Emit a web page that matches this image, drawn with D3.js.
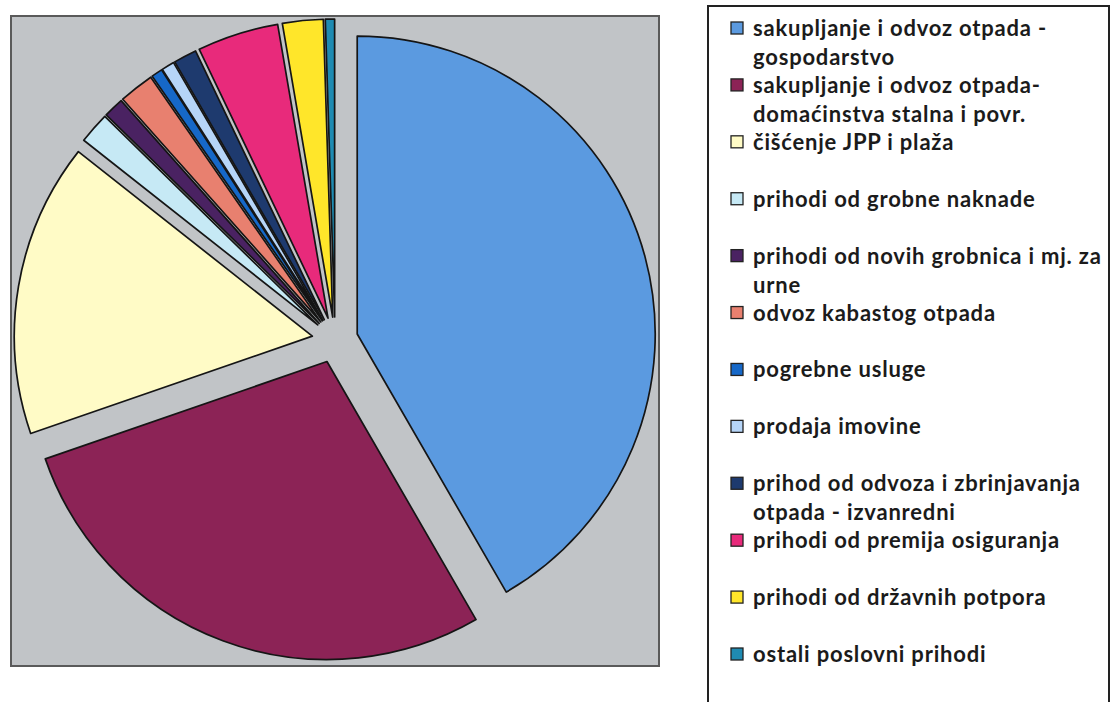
<!DOCTYPE html>
<html>
<head>
<meta charset="utf-8">
<script src="https://cdn.jsdelivr.net/npm/d3@7"></script>
<style>
  body { margin: 0; background: #fff; }
  .legendText { font-family: Lato, "Open Sans", sans-serif; font-weight: bold; font-size: 22px; letter-spacing: 0.8px; fill: #1b1b1b; }
</style>
</head>
<body>
<div id="chart"></div>
<script>
var svgWidth = 1113;
var svgHeight = 702;

// data (share of revenue, %)
var categories = [
  ["sakupljanje i odvoz otpada -", "gospodarstvo"],
  ["sakupljanje i odvoz otpada-", "domaćinstva stalna i povr."],
  ["čišćenje JPP i plaža"],
  ["prihodi od grobne naknade"],
  ["prihodi od novih grobnica i mj. za", "urne"],
  ["odvoz kabastog otpada"],
  ["pogrebne usluge"],
  ["prodaja imovine"],
  ["prihod od odvoza i zbrinjavanja", "otpada - izvanredni"],
  ["prihodi od premija osiguranja"],
  ["prihodi od državnih potpora"],
  ["ostali poslovni prihodi"]
];
var values = [41.6, 28.0, 15.9, 1.7, 1.1, 1.9, 0.6, 0.7, 1.25, 4.4, 2.2, 0.5];
var colors = ["#5b9ae0", "#8c2356", "#fffbc6", "#c6e9f5", "#4a2262", "#e8806f",
              "#1668c8", "#b6d5f8", "#1e3a6e", "#e82a7b", "#ffe62a", "#1f8bb2"];

var plot = { left: 11, top: 16, right: 659, bottom: 666 };
var center = { x: 335, y: 340 };
var radius = 298;
var explode = 23;

var svg = d3.select("#chart")
  .append("svg")
  .attr("width", svgWidth)
  .attr("height", svgHeight);

// plot area
svg.append("rect")
  .attr("x", plot.left)
  .attr("y", plot.top)
  .attr("width", plot.right - plot.left)
  .attr("height", plot.bottom - plot.top)
  .attr("fill", "#c1c4c7")
  .attr("stroke", "#5a5a5a")
  .attr("stroke-width", 2);

var pie = d3.pie().sort(null).value(d => d);
var arc = d3.arc().innerRadius(0).outerRadius(radius);

var pieGroup = svg.append("g")
  .attr("transform", `translate(${center.x}, ${center.y})`);

// every slice is pulled out from the centre
pieGroup.selectAll("path")
  .data(pie(values))
  .enter()
  .append("path")
  .attr("d", arc)
  .attr("transform", function(d) {
    var mid = (d.startAngle + d.endAngle) / 2;
    return `translate(${Math.sin(mid) * explode}, ${-Math.cos(mid) * explode})`;
  })
  .attr("fill", (d, i) => colors[i])
  .attr("stroke", "#151515")
  .attr("stroke-width", 1.7)
  .attr("stroke-linejoin", "round");

// legend
svg.append("rect")
  .attr("x", 708)
  .attr("y", 6)
  .attr("width", 401)
  .attr("height", 720)
  .attr("fill", "#fff")
  .attr("stroke", "#222")
  .attr("stroke-width", 2);

var legendY = d3.scaleLinear().domain([0, categories.length - 1]).range([28, 654]);

var legend = svg.selectAll(".legendItem")
  .data(categories)
  .enter()
  .append("g")
  .attr("class", "legendItem")
  .attr("transform", (d, i) => `translate(731, ${legendY(i)})`);

legend.append("rect")
  .attr("x", 0)
  .attr("y", -6)
  .attr("width", 12)
  .attr("height", 12)
  .attr("fill", (d, i) => colors[i])
  .attr("stroke", "#222")
  .attr("stroke-width", 1.3);

legend.append("text")
  .attr("class", "legendText")
  .attr("x", 22)
  .attr("y", 8)
  .selectAll("tspan")
  .data(d => d)
  .enter()
  .append("tspan")
  .attr("x", 22)
  .attr("dy", (d, i) => i === 0 ? 0 : 29)
  .text(d => d);
</script>
</body>
</html>
